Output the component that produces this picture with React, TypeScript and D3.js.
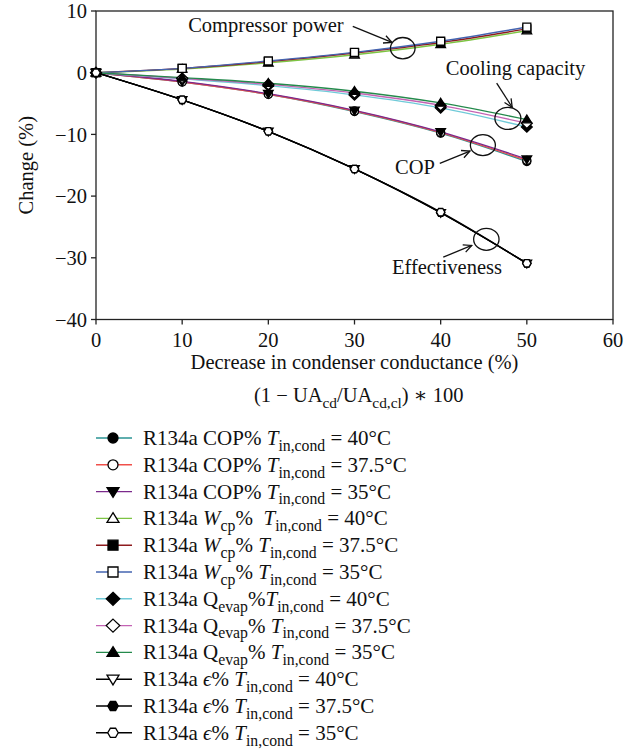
import React from "react";
import * as d3 from "d3";

const xValues = [0, 10, 20, 30, 40, 50];
const xTicks = [0, 10, 20, 30, 40, 50, 60];
const yTicks = [10, 0, -10, -20, -30, -40];

const cop40 = [0, -1.5, -3.5, -6.3, -9.8, -14.4];
const cop375 = [0, -1.5, -3.5, -6.2, -9.7, -14.2];
const cop35 = [0, -1.4, -3.4, -6.1, -9.6, -14.0];
const wcp40 = [0, 0.6, 1.6, 2.9, 4.6, 6.8];
const wcp375 = [0, 0.7, 1.8, 3.2, 4.9, 7.1];
const wcp35 = [0, 0.7, 1.9, 3.3, 5.1, 7.4];
const qev40 = [0, -1.0, -2.1, -3.6, -5.7, -8.8];
const qev375 = [0, -0.9, -1.9, -3.3, -5.3, -8.2];
const qev35 = [0, -0.8, -1.7, -3.0, -4.9, -7.6];
const eps40 = [0, -4.4, -9.5, -15.6, -22.7, -30.9];
const eps375 = [0, -4.4, -9.5, -15.6, -22.7, -30.9];
const eps35 = [0, -4.4, -9.5, -15.6, -22.6, -30.9];

type Part = { t: string; i?: boolean; sub?: boolean };

const P = (t: string, i = false, sub = false): Part => ({ t, i, sub });

const series = [
  { name: "cop40", values: cop40, color: "#2a9393", shape: "circle", fill: "#000", label: [P("R134a COP% "), P("T", true), P("in,cond", false, true), P(" = 40°C")] },
  { name: "cop375", values: cop375, color: "#f0504a", shape: "circle", fill: "#fff", label: [P("R134a COP% "), P("T", true), P("in,cond", false, true), P(" = 37.5°C")] },
  { name: "cop35", values: cop35, color: "#7b2a8c", shape: "triDown", fill: "#000", label: [P("R134a COP% "), P("T", true), P("in,cond", false, true), P(" = 35°C")] },
  { name: "wcp40", values: wcp40, color: "#7dc443", shape: "triUp", fill: "#fff", label: [P("R134a "), P("W", true), P("cp", false, true), P("%\u00a0\u00a0"), P("T", true), P("in,cond", false, true), P(" = 40°C")] },
  { name: "wcp375", values: wcp375, color: "#8e1b1e", shape: "square", fill: "#000", label: [P("R134a "), P("W", true), P("cp", false, true), P("% "), P("T", true), P("in,cond", false, true), P(" = 37.5°C")] },
  { name: "wcp35", values: wcp35, color: "#4464b0", shape: "square", fill: "#fff", label: [P("R134a "), P("W", true), P("cp", false, true), P("% "), P("T", true), P("in,cond", false, true), P(" = 35°C")] },
  { name: "qev40", values: qev40, color: "#6fcad8", shape: "diamond", fill: "#000", label: [P("R134a Q"), P("evap", false, true), P("%"), P("T", true), P("in,cond", false, true), P(" = 40°C")] },
  { name: "qev375", values: qev375, color: "#c463b4", shape: "diamond", fill: "#fff", label: [P("R134a Q"), P("evap", false, true), P("% "), P("T", true), P("in,cond", false, true), P(" = 37.5°C")] },
  { name: "qev35", values: qev35, color: "#248a4c", shape: "triUp", fill: "#000", label: [P("R134a Q"), P("evap", false, true), P("% "), P("T", true), P("in,cond", false, true), P(" = 35°C")] },
  { name: "eps40", values: eps40, color: "#000", shape: "triDown", fill: "#fff", label: [P("R134a "), P("ϵ", true), P("% "), P("T", true), P("in,cond", false, true), P(" = 40°C")] },
  { name: "eps375", values: eps375, color: "#000", shape: "hex", fill: "#000", label: [P("R134a "), P("ϵ", true), P("% "), P("T", true), P("in,cond", false, true), P(" = 37.5°C")] },
  { name: "eps35", values: eps35, color: "#000", shape: "hex", fill: "#fff", label: [P("R134a "), P("ϵ", true), P("% "), P("T", true), P("in,cond", false, true), P(" = 35°C")] },
];

// annotations in data units
const annotations = [
  { text: "Compressor power", tx: 10.7, ty: 7.7, ax1: 29.8, ay1: 7.5, ax2: 34.35, ay2: 4.9, ex: 35.6, ey: 3.97, rx: 12.3, ry: 10.7 },
  { text: "Cooling capacity", tx: 40.6, ty: 0.73, ax1: 46.5, ay1: -1.7, ax2: 48.3, ay2: -5.6, ex: 47.8, ey: -7.4, rx: 13, ry: 11 },
  { text: "COP", tx: 34.7, ty: -15.3, ax1: 39.9, ay1: -14.7, ax2: 43.4, ay2: -12.7, ex: 44.9, ey: -11.75, rx: 12.5, ry: 10.5 },
  { text: "Effectiveness", tx: 34.35, ty: -31.5, ax1: 40.3, ay1: -29.9, ax2: 43.6, ay2: -28.0, ex: 45.3, ey: -27.0, rx: 12.7, ry: 11 },
];

const FONT = "'Liberation Serif', 'DejaVu Serif', serif";

function markerPath(shape: string, s: number): string {
  switch (shape) {
    case "circle":
      return `M${s},0A${s},${s} 0 1,1 ${-s},0A${s},${s} 0 1,1 ${s},0Z`;
    case "square":
      return `M${-s},${-s}H${s}V${s}H${-s}Z`;
    case "triUp":
      return `M0,${-s * 1.15}L${s * 1.2},${s * 0.8}L${-s * 1.2},${s * 0.8}Z`;
    case "triDown":
      return `M0,${s * 1.15}L${s * 1.2},${-s * 0.8}L${-s * 1.2},${-s * 0.8}Z`;
    case "diamond":
      return `M0,${-s * 1.3}L${s * 1.35},0L0,${s * 1.3}L${-s * 1.35},0Z`;
    case "hex": {
      const pts = d3.range(6).map((k) => {
        const a = (Math.PI / 3) * k;
        return [s * 1.05 * Math.cos(a), s * 1.05 * Math.sin(a)];
      });
      return "M" + pts.map((p) => p.join(",")).join("L") + "Z";
    }
  }
  return "";
}

function RichText({ parts, x, y, size }: { parts: Part[]; x: number; y: number; size: number }) {
  let inSub = false;
  const shift = size * 0.28;
  return (
    <text x={x} y={y} fontFamily={FONT} fontSize={size} fill="#111">
      {parts.map((p, k) => {
        let dy = 0;
        if (p.sub && !inSub) { dy = shift; inSub = true; }
        else if (!p.sub && inSub) { dy = -shift; inSub = false; }
        return (
          <tspan key={k} dy={dy} fontStyle={p.i ? "italic" : "normal"} fontSize={p.sub ? size * 0.75 : size}>
            {p.t}
          </tspan>
        );
      })}
    </text>
  );
}

function Arrow({ x1, y1, x2, y2 }: { x1: number; y1: number; x2: number; y2: number }) {
  const ang = Math.atan2(y2 - y1, x2 - x1);
  const L = 9, w = 0.45;
  const p1 = [x2 - L * Math.cos(ang - w), y2 - L * Math.sin(ang - w)];
  const p2 = [x2 - L * Math.cos(ang + w), y2 - L * Math.sin(ang + w)];
  return (
    <g stroke="#111" strokeWidth={1.3} fill="none">
      <line x1={x1} y1={y1} x2={x2} y2={y2} />
      <path d={`M${p1[0]},${p1[1]}L${x2},${y2}L${p2[0]},${p2[1]}`} />
    </g>
  );
}

export default function App() {
  const W = 642, H = 750;
  const x = d3.scaleLinear().domain([0, 60]).range([96, 613]);
  const y = d3.scaleLinear().domain([-40, 10]).range([319.5, 11]);
  const line = d3
    .line<number>()
    .x((_, i) => x(xValues[i]))
    .y((d) => y(d))
    .curve(d3.curveCardinal);

  const legendX0 = 96, legendX1 = 132, legendMX = 113, legendTX = 143;
  const legendY0 = 438, legendDY = 26.8;
  const fs = 20.5;
  const lfs = 21;

  return (
    <svg width={W} height={H} style={{ position: "absolute", left: 0, top: 0, background: "#fff" }}>
      <rect width={W} height={H} fill="#fff" />
      {/* frame */}
      <rect x={x(0)} y={y(10)} width={x(60) - x(0)} height={y(-40) - y(10)} fill="none" stroke="#222" strokeWidth={1.3} />
      {/* y ticks */}
      {yTicks.map((t) => (
        <g key={"y" + t}>
          <line x1={x(0) - 5} x2={x(0)} y1={y(t)} y2={y(t)} stroke="#222" strokeWidth={1.3} />
          <text x={x(0) - 9} y={y(t)} dy="0.35em" textAnchor="end" fontFamily={FONT} fontSize={fs} fill="#111">
            {t < 0 ? "\u2212" + Math.abs(t) : String(t)}
          </text>
        </g>
      ))}
      {/* x ticks */}
      {xTicks.map((t) => (
        <g key={"x" + t}>
          <line x1={x(t)} x2={x(t)} y1={y(-40)} y2={y(-40) + 5} stroke="#222" strokeWidth={1.3} />
          <text x={x(t)} y={y(-40) + 20} dy="0.35em" textAnchor="middle" fontFamily={FONT} fontSize={fs} fill="#111">
            {t}
          </text>
        </g>
      ))}
      <text transform={`translate(26,${(y(10) + y(-40)) / 2}) rotate(-90)`} textAnchor="middle" dy="0.35em" fontFamily={FONT} fontSize={fs} fill="#111">
        Change (%)
      </text>
      <text x={(x(0) + x(60)) / 2} y={y(-40) + 42} dy="0.35em" textAnchor="middle" fontFamily={FONT} fontSize={fs} fill="#111">
        Decrease in condenser conductance (%)
      </text>
      <RichText
        x={254}
        y={402}
        size={fs}
        parts={[P("(1 \u2212 UA"), P("cd", false, true), P("/UA"), P("cd,cl", false, true), P(") \u2217 100")]}
      />
      {/* series lines */}
      {series.map((s) => (
        <path key={s.name} d={line(s.values) || ""} fill="none" stroke={s.color} strokeWidth={1.4} />
      ))}
      {/* markers */}
      {series.map((s) => (
        <g key={s.name + "m"}>
          {s.values.map((v, i) => (
            <path
              key={i}
              transform={`translate(${x(xValues[i])},${y(v)})`}
              d={markerPath(s.shape, 4)}
              fill={s.fill}
              stroke="#000"
              strokeWidth={1.3}
            />
          ))}
        </g>
      ))}
      {/* annotations */}
      {annotations.map((a) => (
        <g key={a.text}>
          <text x={x(a.tx)} y={y(a.ty)} dy="0.35em" fontFamily={FONT} fontSize={fs} fill="#111">
            {a.text}
          </text>
          <Arrow x1={x(a.ax1)} y1={y(a.ay1)} x2={x(a.ax2)} y2={y(a.ay2)} />
          <ellipse cx={x(a.ex)} cy={y(a.ey)} rx={a.rx} ry={a.ry} fill="none" stroke="#111" strokeWidth={1.3} />
        </g>
      ))}
      {/* legend */}
      {series.map((s, k) => {
        const ly = legendY0 + k * legendDY;
        return (
          <g key={s.name + "l"}>
            <line x1={legendX0} x2={legendX1} y1={ly} y2={ly} stroke={s.color} strokeWidth={1.4} />
            <path transform={`translate(${legendMX},${ly})`} d={markerPath(s.shape, 5)} fill={s.fill} stroke="#000" strokeWidth={1.3} />
            <RichText x={legendTX} y={ly + 7} size={lfs} parts={s.label} />
          </g>
        );
      })}
    </svg>
  );
}
